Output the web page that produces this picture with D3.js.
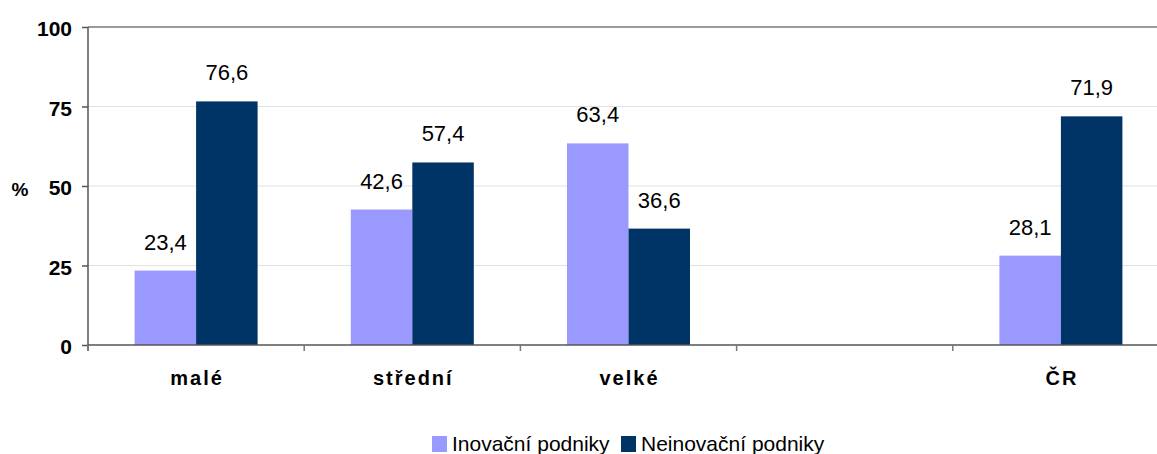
<!DOCTYPE html>
<html><head><meta charset="utf-8">
<script src="https://cdn.jsdelivr.net/npm/d3@7"></script>
<style>body{margin:0;background:#fff}svg{display:block;font-family:"Liberation Sans",Arial,sans-serif}</style>
</head><body><svg id="c" width="1157" height="454"></svg>
<script>
const categories = ["malé", "střední", "velké", "", "ČR"];
const seriesNames = ["Inovační podniky", "Neinovační podniky"];
const inovacni = [23.4, 42.6, 63.4, null, 28.1];
const neinovacni = [76.6, 57.4, 36.6, null, 71.9];
const yTicks = [0, 25, 50, 75, 100];
const colors = ["#9999FF", "#003366"];

const svg = d3.select("#c");
const pLeft = 88, pRight = 1169, pTop = 27, pBottom = 345;
const x = d3.scaleBand().domain(d3.range(categories.length)).range([pLeft, pRight]);
const y = d3.scaleLinear().domain([0, 100]).range([pBottom, pTop]);
const barW = 61.5;

// gridlines
svg.append("g").selectAll("line").data(yTicks.filter(t => t > 0)).join("line")
  .attr("x1", pLeft).attr("x2", 1157)
  .attr("y1", d => y(d)).attr("y2", d => y(d))
  .attr("stroke", d => d === 100 ? "#9a9a9a" : "#e0e0e0")
  .attr("stroke-width", d => d === 100 ? 2 : 1);

const series = [inovacni, neinovacni];
series.forEach((vals, s) => {
  const g = svg.append("g");
  const data = vals.map((v, i) => ({v, i})).filter(d => d.v != null);
  g.selectAll("rect").data(data).join("rect")
    .attr("x", d => x(d.i) + x.bandwidth() / 2 - barW + s * barW)
    .attr("width", barW)
    .attr("y", d => y(d.v))
    .attr("height", d => y(0) - y(d.v))
    .attr("fill", colors[s]);
  g.selectAll("text").data(data).join("text")
    .attr("x", d => x(d.i) + x.bandwidth() / 2 - barW / 2 + s * barW)
    .attr("y", d => y(d.v) - 21)
    .attr("text-anchor", "middle")
    .attr("font-size", 22).attr("fill", "#000")
    .text(d => String(d.v).replace(".", ","));
});

// y axis
const yAxis = d3.axisLeft(y).tickValues(yTicks).tickSize(6).tickPadding(10);
const ya = svg.append("g").attr("transform", `translate(${pLeft},0)`).call(yAxis);
ya.select(".domain").attr("stroke", "#555").attr("stroke-width", 1.5).attr("d", `M0,${pTop}V${pBottom + 6}`);
ya.selectAll(".tick line").attr("stroke", "#555").attr("stroke-width", 1.5);
ya.selectAll("text").attr("font-size", 21).attr("font-weight", "bold").attr("fill", "#000")
  .attr("dy", "0.42em")
  .attr("font-family", "Liberation Sans, Arial, sans-serif");

// x axis
const xa = svg.append("g").attr("transform", `translate(0,${pBottom})`);
xa.append("line").attr("x1", pLeft).attr("x2", 1157).attr("y1", 0).attr("y2", 0)
  .attr("stroke", "#555").attr("stroke-width", 1.5);
const tickPos = d3.range(categories.length).map(i => x(i)).concat([pRight]);
xa.selectAll(".xt").data(tickPos).join("line").attr("class", "xt")
  .attr("x1", d => d).attr("x2", d => d).attr("y1", 0).attr("y2", 6)
  .attr("stroke", "#777").attr("stroke-width", 1.5);
xa.selectAll(".xl").data(categories).join("text").attr("class", "xl")
  .attr("x", (d, i) => x(i) + x.bandwidth() / 2 + 1)
  .attr("y", 40)
  .attr("text-anchor", "middle")
  .attr("font-size", 20).attr("font-weight", "bold").attr("letter-spacing", 2)
  .text(d => d);

// y title
svg.append("text").attr("x", 20).attr("y", 196).attr("text-anchor", "middle")
  .attr("font-size", 19).attr("font-weight", "bold").text("%");

// legend
const leg = svg.append("g");
const legX = [432, 621];
seriesNames.forEach((n, s) => {
  leg.append("rect").attr("x", legX[s]).attr("y", 436).attr("width", 15).attr("height", 16).attr("fill", colors[s]);
  leg.append("text").attr("x", legX[s] + 20).attr("y", 451).attr("font-size", 21).text(n);
});
</script></body></html>
